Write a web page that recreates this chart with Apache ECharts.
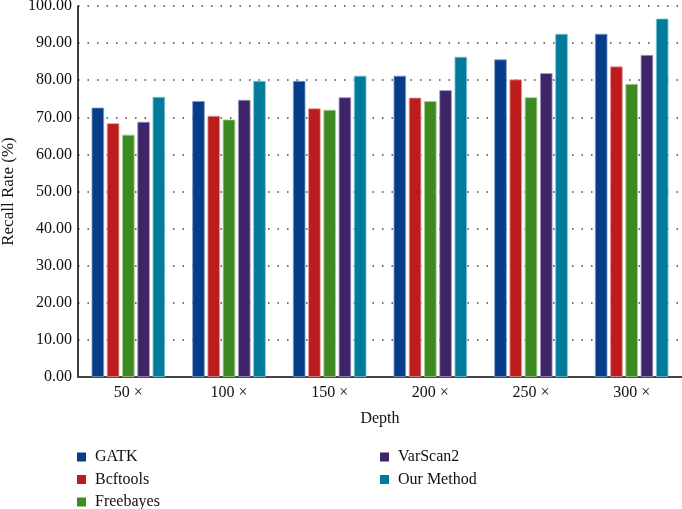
<!DOCTYPE html>
<html>
<head>
<meta charset="utf-8">
<script src="https://cdn.jsdelivr.net/npm/echarts@6/dist/echarts.min.js"></script>
<style>html,body{margin:0;padding:0;background:#fff;}#c{width:682px;height:509px;}</style>
</head>
<body>
<div id="c"></div>
<script>
const categories = ['50 ×', '100 ×', '150 ×', '200 ×', '250 ×', '300 ×'];
const seriesNames = ['GATK', 'Bcftools', 'Freebayes', 'VarScan2', 'Our Method'];
const gatk      = [72.6, 74.4, 79.8, 81.2, 85.6, 92.5];
const bcftools  = [68.4, 70.4, 72.4, 75.3, 80.2, 83.7];
const freebayes = [65.3, 69.4, 72.0, 74.4, 75.4, 79.0];
const varscan2  = [68.8, 74.7, 75.4, 77.3, 81.9, 86.8];
const ourMethod = [75.5, 79.8, 81.2, 86.3, 92.5, 96.6];
const yTicks = [0, 10, 20, 30, 40, 50, 60, 70, 80, 90, 100];

const colors = ['#063d88', '#bd1c1c', '#3e8a22', '#3d2567', '#017b9b'];
const borders = ['#7f9fc8', '#e89a9a', '#a6d08e', '#a899c4', '#80c4d8'];
const values = [gatk, bcftools, freebayes, varscan2, ourMethod];
const FONT = '"Liberation Serif", "DejaVu Serif", serif';

const legendBase = {
  orient: 'vertical', top: 449, height: 70, padding: 0,
  icon: 'rect', itemWidth: 9, itemHeight: 9, itemGap: 6.5,
  itemStyle: {borderWidth: 0},
  textStyle: {fontFamily: FONT, fontSize: 16, color: '#111', padding: [0, 0, 0, 4]}
};

const chart = echarts.init(document.getElementById('c'), null, {renderer: 'canvas'});
chart.setOption({
  animation: false,
  backgroundColor: '#fff',
  textStyle: {fontFamily: FONT},
  grid: {left: 78, right: 0, top: 6, bottom: 132, containLabel: false, outerBoundsMode: 'none'},
  legend: [
    Object.assign({}, legendBase, {data: seriesNames.slice(0, 3), left: 77}),
    Object.assign({}, legendBase, {data: seriesNames.slice(3), left: 380})
  ],
  xAxis: {
    type: 'category',
    data: categories,
    name: 'Depth',
    nameLocation: 'middle',
    nameGap: 34,
    nameTextStyle: {fontFamily: FONT, fontSize: 16, color: '#111'},
    axisLine: {lineStyle: {color: '#444', width: 2}},
    axisTick: {show: false},
    axisLabel: {fontFamily: FONT, fontSize: 16, color: '#111', margin: 8},
    splitLine: {show: false}
  },
  yAxis: {
    type: 'value',
    min: yTicks[0], max: yTicks[yTicks.length - 1], interval: 10,
    name: 'Recall Rate (%)',
    nameLocation: 'middle',
    nameGap: 58,
    nameTextStyle: {fontFamily: FONT, fontSize: 17, color: '#111'},
    axisLine: {show: true, lineStyle: {color: '#000', width: 1.5}},
    axisTick: {show: false},
    axisLabel: {fontFamily: FONT, fontSize: 16, color: '#111', margin: 6,
      formatter: v => v.toFixed(2)},
    splitLine: {show: true, lineStyle: {color: '#444', width: 1.5, type: [1.5, 8]}}
  },
  series: seriesNames.map((n, i) => ({
    name: n,
    type: 'bar',
    data: values[i],
    barWidth: 12.5,
    barGap: '22%',
    itemStyle: {color: colors[i], borderColor: borders[i], borderWidth: 0.8}
  }))
});
</script>
</body>
</html>
